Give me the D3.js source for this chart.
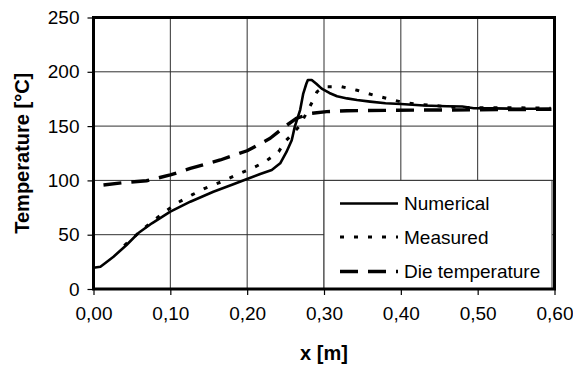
<!DOCTYPE html>
<html><head><meta charset="utf-8">
<script src="https://cdn.jsdelivr.net/npm/d3@7/dist/d3.min.js"></script>
<style>body{margin:0;background:#fff}svg{display:block}text{font-family:Arial,"Liberation Sans",sans-serif;fill:#000}</style>
</head><body><svg id="c" width="573" height="367"></svg>
<script>
const xTicks = [0, 0.1, 0.2, 0.3, 0.4, 0.5, 0.6];
const xTickLabels = ["0,00", "0,10", "0,20", "0,30", "0,40", "0,50", "0,60"];
const yTicks = [0, 50, 100, 150, 200, 250];
const seriesNames = ["Numerical", "Measured", "Die temperature"];

const numX = [0, 0.009, 0.015, 0.026, 0.043, 0.058, 0.076, 0.1, 0.126, 0.156, 0.182, 0.199, 0.217, 0.232, 0.243, 0.251, 0.258, 0.262, 0.269, 0.273, 0.277, 0.279, 0.284, 0.29, 0.297, 0.307, 0.317, 0.33, 0.343, 0.36, 0.38, 0.4, 0.43, 0.46, 0.48, 0.495, 0.52, 0.55, 0.595];
const numT = [19.5, 20.5, 23.7, 29.7, 40.5, 51.3, 60.5, 71.2, 80.4, 89.6, 96.4, 101, 105.9, 109.6, 115.7, 126, 137, 149.5, 165, 180, 189, 192.5, 192.5, 189, 184.5, 180.5, 177.5, 175.5, 174, 172.5, 171, 170.3, 169, 168.3, 168, 166.5, 166.3, 166, 166];

const measX = [0.04, 0.063, 0.08, 0.093, 0.108, 0.128, 0.145, 0.167, 0.186, 0.206, 0.223, 0.241, 0.249, 0.258, 0.268, 0.277, 0.286, 0.291, 0.301, 0.323, 0.343, 0.364, 0.386, 0.405, 0.425, 0.45, 0.472, 0.5, 0.543, 0.595];
const measT = [40, 54.3, 64, 71, 78.9, 86.6, 92.7, 98.8, 105, 111, 117, 126.4, 135.6, 142, 150, 161.8, 174, 181.7, 186.3, 186.3, 183, 178.6, 174.7, 171.5, 170, 168.5, 167.3, 167, 167, 166.4];

const dieX = [0.013, 0.04, 0.069, 0.1, 0.126, 0.165, 0.2, 0.23, 0.249, 0.264, 0.284, 0.3035, 0.33, 0.438, 0.5, 0.596];
const dieT = [95.8, 98, 99.7, 105, 111, 118.8, 127.3, 138.8, 149.5, 157.2, 161.8, 163.3, 164.2, 164.8, 165, 165.5];

const L = 93.5, R = 554.5, T = 17.5, B = 289;
const svg = d3.select("#c");
const x = d3.scaleLinear().domain([0, 0.6]).range([L, R]);
const y = d3.scaleLinear().domain([0, 250]).range([B, T]);

// grid
const g = svg.append("g");
g.selectAll("line.h").data(yTicks.slice(1, -1)).enter().append("line")
  .attr("x1", L).attr("x2", R).attr("y1", d => y(d)).attr("y2", d => y(d))
  .attr("stroke", "#303030").attr("stroke-width", 1);
g.selectAll("line.v").data(xTicks.slice(1, -1)).enter().append("line")
  .attr("y1", T).attr("y2", B).attr("x1", d => x(d)).attr("x2", d => x(d))
  .attr("stroke", "#303030").attr("stroke-width", 1);

// axes
const yAxis = d3.axisLeft(y).tickValues(yTicks).tickSize(6).tickPadding(8).tickFormat(d3.format("d"));
const xAxis = d3.axisBottom(x).tickValues(xTicks).tickSize(6).tickPadding(12).tickFormat((d, i) => xTickLabels[i]);
const ya = svg.append("g").attr("transform", `translate(${L},0)`).call(yAxis);
const xa = svg.append("g").attr("transform", `translate(0,${B})`).call(xAxis);
[ya, xa].forEach(a => {
  a.select(".domain").remove();
  a.selectAll(".tick line").attr("stroke", "#000").attr("stroke-width", 1.2);
  a.selectAll("text").attr("font-size", 19).attr("font-family", "Arial, 'Liberation Sans', sans-serif").attr("fill", "#000");
});

const line = d3.line().x(d => x(d[0])).y(d => y(d[1]));
const zip = (a, b) => a.map((v, i) => [v, b[i]]);
const styles = [
  {w: 2.6, dash: null},
  {w: 3, dash: "4,10"},
  {w: 3.4, dash: "18,10"}
];
const data = [zip(numX, numT), zip(measX, measT), zip(dieX, dieT)];
data.forEach((d, i) => {
  svg.append("path").datum(d).attr("d", line).attr("fill", "none")
    .attr("stroke", "#000").attr("stroke-width", styles[i].w)
    .attr("stroke-dasharray", styles[i].dash).attr("stroke-linejoin", "round");
});

// legend
const lg = svg.append("g");
lg.append("rect").attr("x", x(0.3)).attr("y", y(100)).attr("width", R - 2.5 - x(0.3)).attr("height", B - y(100))
  .attr("fill", "#fff").attr("stroke", "#303030").attr("stroke-width", 1);
const rowY = [203.5, 237, 271.5];
seriesNames.forEach((n, i) => {
  lg.append("line").attr("x1", 340).attr("x2", 398).attr("y1", rowY[i]).attr("y2", rowY[i])
    .attr("stroke", "#000").attr("stroke-width", styles[i].w).attr("stroke-dasharray", styles[i].dash);
  lg.append("text").attr("x", 404).attr("y", rowY[i]).attr("dy", "0.35em").attr("font-size", 19).text(n);
});

// frame
svg.append("rect").attr("x", L).attr("y", T).attr("width", R - L).attr("height", B - T)
  .attr("fill", "none").attr("stroke", "#000").attr("stroke-width", 3);

// titles
svg.append("text").attr("x", (L + R) / 2).attr("y", 353).attr("dy", "0.35em").attr("text-anchor", "middle")
  .attr("font-size", 20).attr("font-weight", "bold").text("x [m]");
svg.append("text").attr("transform", `translate(22,${(T + B) / 2}) rotate(-90)`).attr("dy", "0.35em")
  .attr("text-anchor", "middle").attr("font-size", 20).attr("font-weight", "bold").text("Temperature [°C]");
</script></body></html>
